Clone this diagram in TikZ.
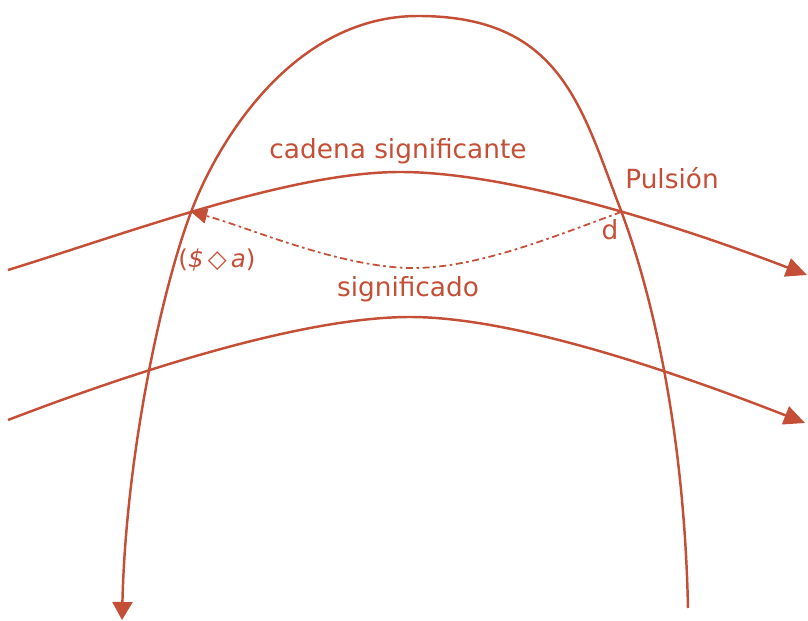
\documentclass[tikz,border=0pt]{standalone}
\usepackage{fontspec}
\setmainfont{DejaVu Sans}
\usetikzlibrary{arrows.meta,intersections}
\definecolor{lazo}{RGB}{196,78,54}

\begin{document}
\begin{tikzpicture}[x=0.02cm,y=0.02cm,
  trazo/.style={lazo,line width=1.4pt},
  punta/.style={-{Triangle[length=0.42cm,width=0.38cm]}},
  rotulo/.style={lazo,font=\fontsize{15}{18}\selectfont,inner sep=0pt}]
\useasboundingbox (0,0) rectangle (808,621);
% arco de la pulsion
\draw[trazo,name path=arco,-{Triangle[length=0.36cm,width=0.4cm]}]
  (688,13) .. controls (684,200) and (648.6,338.3) .. (620,413)
  .. controls (580.7,515.7) and (560,605) .. (418,605)
  .. controls (298,605) and (222.4,488.4) .. (193,414)
  .. controls (163.6,339.6) and (126,170) .. (122,1);
% cadena significante
\draw[trazo,punta,name path=cadena] (8,351) .. controls (128,388) and (290,449) .. (400,449)
  .. controls (515,449) and (690,391) .. (807,346);
% significado
\draw[trazo,punta] (8,201) .. controls (128,247) and (300,304) .. (410,304)
  .. controls (520,304) and (690,243) .. (805,198);
\path[name intersections={of=arco and cadena,by={cI,cD},sort by=cadena}];
% retorno punteado
\draw[lazo,line width=1pt,dash pattern=on 4pt off 2pt on 1.5pt off 2pt,-{Triangle[length=0.32cm,width=0.3cm]}]
  (cD) .. controls (560,387) and (480,353) .. (413,353)
  .. controls (340,353) and (245,395) .. (cI);
\node[rotulo] (cadenaTxt) at (398,470) {cadena significante};
\node[rotulo] (pulsion) at (672,443) {Pulsión};
\node[rotulo] (d) at (610,391) {d};
\node[rotulo,font=\fontsize{14}{16}\selectfont] (matema) at (217,361) {(\textit{\$}\,◇\,\textit{a})};
\node[rotulo] (significado) at (408,332) {significado};
\end{tikzpicture}
\end{document}
